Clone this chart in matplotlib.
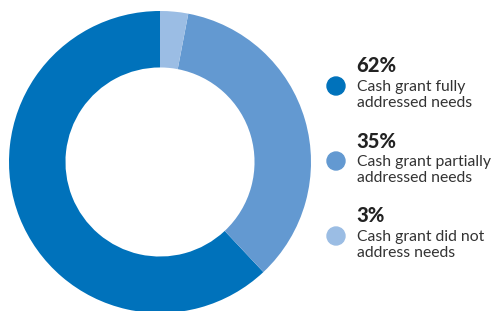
import matplotlib.pyplot as plt
from matplotlib.patches import Ellipse

# shares of respondents, counterclockwise from 12 o'clock
shares = [62, 35, 3]
pct_labels = ["62%", "35%", "3%"]
desc_labels = ["Cash grant fully\naddressed needs",
               "Cash grant partially\naddressed needs",
               "Cash grant did not\naddress needs"]
colors = ["#0072bb", "#6399d1", "#9bbde4"]

W, H = 495, 311
fig = plt.figure(figsize=(W / 100, H / 100), dpi=100)

# donut: centre (160, 162) px, outer radius 151 px
cx, cy, r = 160, 162, 151
ax = fig.add_axes([(cx - r) / W, (H - cy - r) / H, 2 * r / W, 2 * r / H])
ax.pie(shares, colors=colors, startangle=90, counterclock=True,
       wedgeprops=dict(width=0.374, linewidth=0))
ax.set_xlim(-1, 1)
ax.set_ylim(-1, 1)
ax.set_aspect("auto")
ax.axis("off")

# legend block
font = ["Lato", "DejaVu Sans"]
for i, (p, d, c) in enumerate(zip(pct_labels, desc_labels, colors)):
    y0 = 66 + i * 75
    fig.text(356 / W, 1 - y0 / H, p, fontsize=14.5, fontweight=900,
             color="#222222", va="center", ha="left", family=font)
    fig.text(357 / W, 1 - (y0 + 29) / H, d, fontsize=11.3, color="#333333",
             va="center", ha="left", linespacing=1.15, family=font)
    fig.patches.append(Ellipse((336 / W, 1 - (y0 + 20) / H), 18 / W, 18 / H,
                               transform=fig.transFigure, color=c))

fig.savefig("out.png", dpi=100)
